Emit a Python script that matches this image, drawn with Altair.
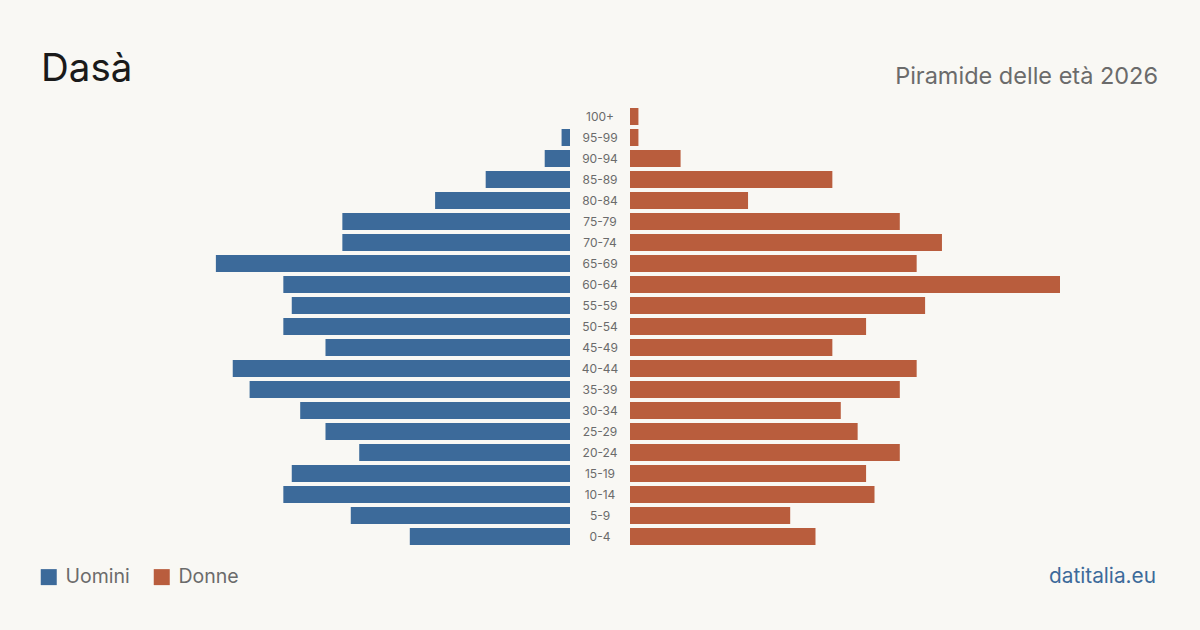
import altair as alt
import pandas as pd

# Age classes, from the oldest (top) to the youngest (bottom)
classi = ["100+", "95-99", "90-94", "85-89", "80-84", "75-79", "70-74",
          "65-69", "60-64", "55-59", "50-54", "45-49", "40-44", "35-39",
          "30-34", "25-29", "20-24", "15-19", "10-14", "5-9", "0-4"]

# Residents per age class
uomini = [0, 1, 3, 10, 16, 27, 27, 42, 34, 33, 34, 29, 40, 38, 32, 29, 25, 33, 34, 26, 19]
donne = [1, 1, 6, 24, 14, 32, 37, 34, 51, 35, 28, 24, 34, 32, 25, 27, 32, 28, 29, 19, 22]

sessi = ["Uomini", "Donne"]

titolo = "Dasà"
sottotitolo = "Piramide delle età 2026"
fonte = "datitalia.eu"

BLU = "#3c6a9a"
ARANCIO = "#b95d3d"
SFONDO = "#f9f8f4"
GRIGIO = "#6b6b6b"
FONT = "Inter"

df = pd.DataFrame({
    "classe": classi * 2,
    "sesso": ["Uomini"] * len(classi) + ["Donne"] * len(classi),
    "persone": uomini + donne,
})
df_classi = pd.DataFrame({"classe": classi})

massimo = max(uomini + donne)

y_enc = alt.Y(
    "classe:N",
    sort=classi,
    axis=None,
    scale=alt.Scale(domain=classi, range=[106, 547],
                    paddingInner=4 / 21, paddingOuter=2 / 21),
)

colore = alt.Color(
    "sesso:N",
    scale=alt.Scale(domain=sessi, range=[BLU, ARANCIO]),
    legend=alt.Legend(
        title=None,
        orient="none",
        direction="horizontal",
        legendX=39,
        legendY=567,
        symbolType="square",
        symbolSize=256,
        symbolStrokeWidth=0,
        symbolOpacity=1,
        labelFontSize=19.5,
        labelFont=FONT,
        labelColor=GRIGIO,
        labelOffset=7,
        columnPadding=22,
        padding=0,
    ),
)

base = alt.Chart(df)

barre_uomini = base.transform_filter(alt.datum.sesso == "Uomini").mark_bar().encode(
    x=alt.X("persone:Q", axis=None,
            scale=alt.Scale(domain=[0, massimo], range=[570, 140], nice=False, zero=True)),
    y=y_enc,
    color=colore,
)

barre_donne = base.transform_filter(alt.datum.sesso == "Donne").mark_bar().encode(
    x=alt.X("persone:Q", axis=None,
            scale=alt.Scale(domain=[0, massimo], range=[630, 1060], nice=False, zero=True)),
    y=y_enc,
    color=colore,
)

etichette = alt.Chart(df_classi).mark_text(
    font=FONT, fontSize=12, color=GRIGIO, align="center", baseline="middle"
).encode(
    x=alt.value(600),
    y=y_enc,
    text="classe:N",
)

testo_titolo = alt.Chart(pd.DataFrame({"t": [titolo]})).mark_text(
    font=FONT, fontSize=38.5, color="#1a1a1a", align="left", baseline="alphabetic"
).encode(x=alt.value(41), y=alt.value(81), text="t:N")

testo_sottotitolo = alt.Chart(pd.DataFrame({"t": [sottotitolo]})).mark_text(
    font=FONT, fontSize=23.5, color=GRIGIO, align="right", baseline="alphabetic"
).encode(x=alt.value(1158), y=alt.value(84), text="t:N")

testo_fonte = alt.Chart(pd.DataFrame({"t": [fonte]})).mark_text(
    font=FONT, fontSize=20.8, color=BLU, align="right", baseline="alphabetic"
).encode(x=alt.value(1156), y=alt.value(583), text="t:N")

chart = alt.layer(
    barre_uomini, barre_donne, etichette,
    testo_titolo, testo_sottotitolo, testo_fonte,
).resolve_scale(
    x="independent"
).properties(
    width=1200,
    height=630,
    autosize=alt.AutoSizeParams(type="none"),
    padding=0,
    background=SFONDO,
).configure_view(
    stroke=None
)

chart.save("out.html", embed_options={"renderer": "svg", "actions": False})
